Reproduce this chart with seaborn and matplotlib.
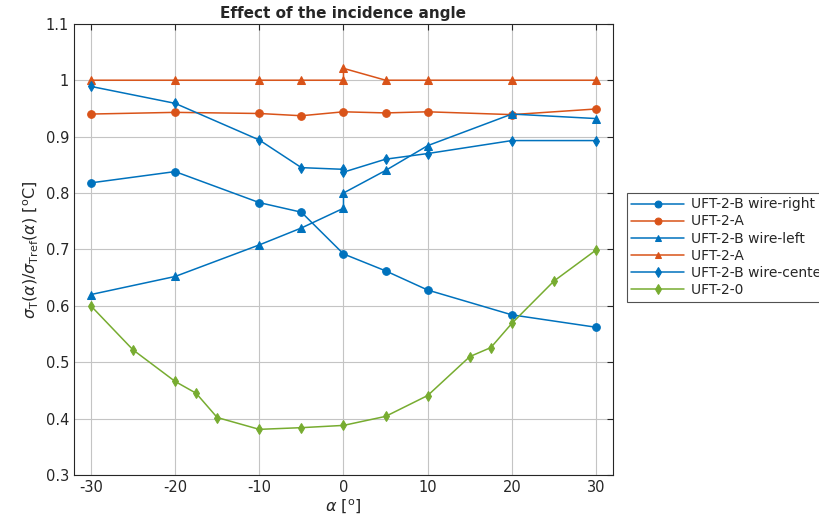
import numpy as np
import pandas as pd
import matplotlib
matplotlib.use("Agg")
import matplotlib.pyplot as plt
import seaborn as sns

# ---------- data ----------
x_right = [-30, -20, -10, -5, 0, 5, 10, 20, 30]
y_right = [0.818, 0.838, 0.783, 0.766, 0.692, 0.662, 0.628, 0.584, 0.562]

x_a_circ = [-30, -20, -10, -5, 0, 5, 10, 20, 30]
y_a_circ = [0.940, 0.943, 0.941, 0.937, 0.944, 0.942, 0.944, 0.939, 0.949]

x_left = [-30, -20, -10, -5, 0, 0, 5, 10, 20, 30]
y_left = [0.620, 0.652, 0.708, 0.738, 0.773, 0.800, 0.840, 0.884, 0.940, 0.932]

x_a_tri = [-30, -20, -10, -5, 0, 0, 5, 10, 20, 30]
y_a_tri = [1.0, 1.0, 1.0, 1.0, 1.0, 1.021, 1.0, 1.0, 1.0, 1.0]

x_center = [-30, -20, -10, -5, 0, 0, 5, 10, 20, 30]
y_center = [0.989, 0.959, 0.894, 0.845, 0.842, 0.837, 0.860, 0.870, 0.893, 0.893]

x_zero = [-30, -25, -20, -17.5, -15, -10, -5, 0, 5, 10, 15, 17.5, 20, 25, 30]
y_zero = [0.600, 0.522, 0.466, 0.445, 0.402, 0.381, 0.384, 0.388, 0.404,
          0.441, 0.510, 0.526, 0.569, 0.644, 0.699]

BLUE, ORANGE, GREEN = "#0072BD", "#D95319", "#77AC30"

series = [
    ("UFT-2-B wire-right", x_right, y_right, BLUE, "o", 5.5),
    ("UFT-2-A", x_a_circ, y_a_circ, ORANGE, "o", 5.5),
    ("UFT-2-B wire-left", x_left, y_left, BLUE, "^", 5.5),
    ("UFT-2-A", x_a_tri, y_a_tri, ORANGE, "^", 5.5),
    ("UFT-2-B wire-center", x_center, y_center, BLUE, "d", 5.5),
    ("UFT-2-0", x_zero, y_zero, GREEN, "d", 5.5),
]

sns.set_style("white")
plt.rcParams["font.family"] = ["DejaVu Sans"]
plt.rcParams["axes.unicode_minus"] = False

fig = plt.figure(figsize=(8.19, 5.29), dpi=100)
ax = fig.add_axes([0.0904, 0.102, 0.658, 0.853])

for i, (name, xs, ys, col, mk, ms) in enumerate(series):
    df = pd.DataFrame({"x": xs, "y": ys})
    sns.lineplot(data=df, x="x", y="y", ax=ax, estimator=None, sort=False,
                 color=col, marker=mk, markersize=ms, markeredgecolor=col,
                 linewidth=1.1, label=name + " " * i)

ax.set_xlim(-32, 32)
ax.set_ylim(0.3, 1.1)
yt = np.round(np.arange(0.3, 1.11, 0.1), 1)
ax.set_xticks(np.arange(-30, 31, 10))
ax.set_yticks(yt)
ax.set_yticklabels([f"{v:g}" for v in yt])
ax.tick_params(direction="in", labelsize=10.5, colors="#262626", length=4,
               top=True, right=True)
ax.grid(True, color="#c4c4c4", linewidth=0.8)
for s in ax.spines.values():
    s.set_color("#262626")
    s.set_linewidth(0.8)

ax.set_title("Effect of the incidence angle", fontsize=11, fontweight="bold", pad=4)
ax.set_xlabel(r"$\alpha$ [$^{\mathrm{o}}$]", fontsize=11.5, labelpad=2)
ax.set_ylabel(r"$\sigma_{\mathrm{T}}(\alpha)/\sigma_{\mathrm{Tref}}(\alpha)$ [$^{\mathrm{o}}$C]",
              fontsize=11.5, labelpad=4)

leg = ax.legend(loc="upper left", bbox_to_anchor=(0.765, 0.636),
                bbox_transform=fig.transFigure, fontsize=10, frameon=True,
                fancybox=False, edgecolor="#262626", borderaxespad=0,
                handlelength=3.8, handletextpad=0.5, labelspacing=0.22,
                borderpad=0.35, markerscale=0.9)
leg.get_frame().set_linewidth(0.8)

fig.savefig("out.png", dpi=100)
